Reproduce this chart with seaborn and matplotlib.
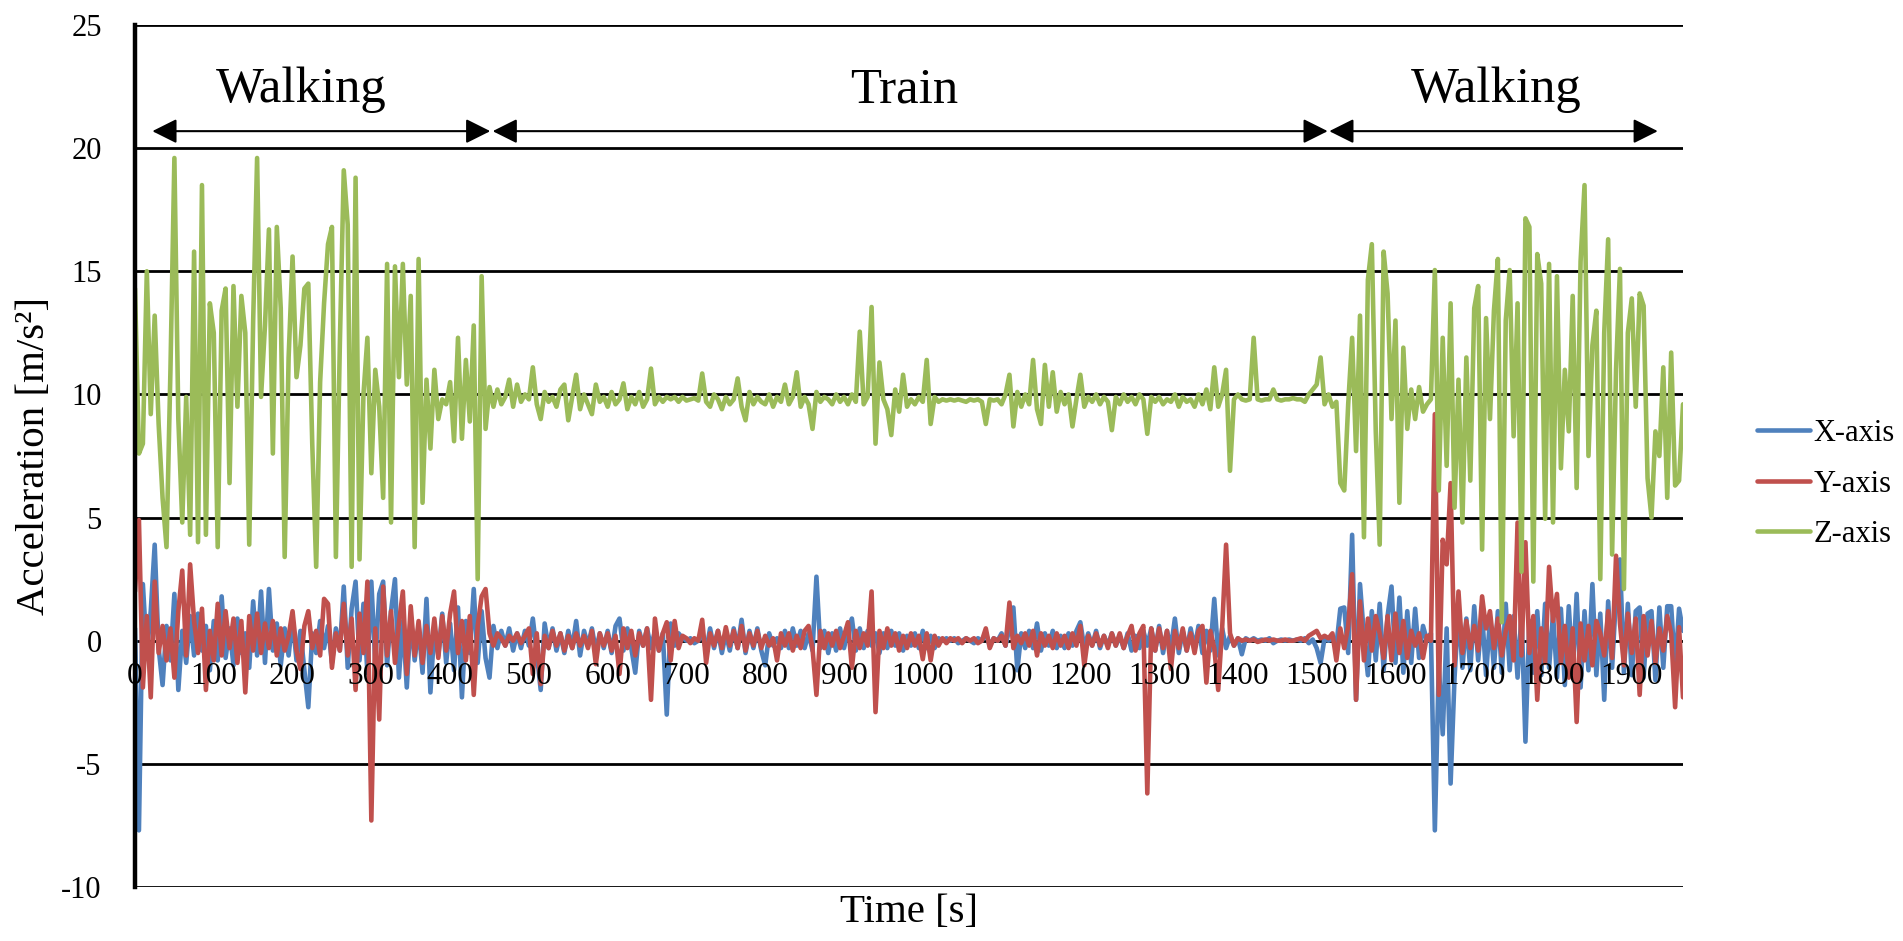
import numpy as np
import pandas as pd
import seaborn as sns
import matplotlib.pyplot as plt

# time axis (s), one reading every 5 s
time_s = list(range(0, 1966, 5))

# X-axis acceleration [m/s2]
x_axis = [
    0.5, -7.7, 2.3, -0.5, 1.2, 3.9, -0.3, -1.8, 0.6, -0.8, 1.9, -2.0, 0.4, -0.9, 1.0, -0.6, 1.1, -0.4, 0.6, -1.2,
    0.8, -0.8, 1.8, -0.7, 0.5, -1.0, 0.9, -0.5, 0.3, -1.1, 1.6, -0.6, 2.0, -0.9, 2.1, -0.4, 0.7, -1.0, 0.5, -0.6,
    0.9, -0.8, 0.4, -1.2, -2.7, 0.3, -0.5, 0.8, -0.3, 0.6, -0.9, 0.5, -0.4, 2.2, -1.1, 1.3, 2.4, -0.8, 1.5, -1.3,
    2.4, -0.9, 1.9, 2.4, -1.0, 1.2, 2.5, -1.5, 0.8, -1.9, 1.0, -0.8, 0.6, -1.3, 1.7, -2.1, 0.5, -0.6, 1.1, -0.9,
    0.7, -1.2, 1.35, -2.3, 0.8, -0.5, 2.1, -0.9, 1.2, -0.7, -1.5, 0.6, -0.3, 0.4, -0.2, 0.5, -0.4, 0.3, -0.3, 0.4,
    -0.2, 0.9, -0.5, -2.0, 0.7, -0.3, 0.5, -0.4, 0.3, -0.5, 0.4, -0.3, 0.8, -0.6, 0.4, -0.2, 0.5, -0.4, 0.3, -0.3,
    0.4, -0.5, 0.6, 0.9, -0.4, 0.5, -0.3, -1.3, 0.4, -0.2, 0.5, -0.3, 0.4, -0.4, 0.3, -3.0, 0.7, -0.2, 0.3, 0.1,
    0.0, 0.1, -0.1, 0.0, 0.3, -0.4, 0.5, -0.3, 0.4, -0.5, 0.3, -0.4, 0.5, -0.3, 0.85, -0.5, 0.4, -0.3, 0.5, -0.4,
    -1.0, 0.3, -0.2, 0.1, -0.3, 0.4, -0.3, 0.5, -0.2, 0.4, -0.3, 0.3, -0.4, 2.6, -0.3, 0.4, -0.5, 0.3, -0.4, 0.5,
    -0.3, 0.4, 0.9, -0.4, 0.5, -0.3, 0.4, -0.2, 0.3, -0.5, 0.3, -0.3, 0.4, -0.2, 0.3, -0.4, 0.2, -0.2, 0.3, -0.3,
    0.4, -0.3, 0.2, -0.3, 0.1, 0.0, 0.1, 0.0, 0.1, -0.1, 0.0, 0.1, 0.0, -0.1, 0.1, 0.0, 0.3, -0.2, 0.1, 0.0,
    0.3, -0.2, 0.5, 1.35, -1.2, 0.3, -0.3, 0.4, -0.3, 0.7, -0.4, 0.3, -0.2, 0.4, -0.3, 0.2, -0.3, 0.3, -0.2, 0.4,
    0.75, -0.3, 0.3, -0.2, 0.4, -0.3, 0.2, -0.2, 0.3, -0.2, 0.2, -0.3, 0.3, -0.4, 0.2, -0.3, 0.4, -0.2, 0.5, -0.4,
    0.6, -0.5, 0.4, -0.3, 0.9, -0.5, 0.4, -0.4, 0.5, -0.3, 0.6, -0.5, 0.4, -0.4, 1.7, -0.6, 0.5, -0.3, 0.2, -0.2,
    0.1, -0.55, 0.1, 0.0, 0.1, 0.0, 0.05, 0.0, 0.1, -0.1, 0.0, 0.05, 0.0, 0.05, 0.0, 0.05, 0.0, 0.1, -0.1, 0.05,
    -0.3, -0.9, 0.1, 0.0, 0.1, -0.2, 1.3, 1.35, -0.5, 4.3, -2.4, 2.3, 0.2, -1.4, 1.2, -0.8, 1.5, -1.2, 1.0, 2.2,
    -0.9, 1.75, -1.3, 1.2, -0.9, 1.3, -0.7, 0.6, 0.0, 0.3, -7.7, -1.0, -3.8, 0.5, -5.8, -1.5, 1.3, -1.1, 0.9, -1.2,
    1.4, -0.8, 1.1, -1.4, 0.9, -1.1, 1.2, -1.3, 1.5, -1.2, 1.0, -1.5, 1.1, -4.1, 0.8, -1.3, 1.2, -1.4, 1.5, -1.1,
    1.1, -1.5, 1.3, -1.8, 1.4, -1.3, 1.9, -1.9, 1.2, -1.2, 2.3, -1.4, 1.1, -2.4, 1.6, -1.1, 1.8, 3.3, -1.3, 1.5,
    -1.4, 1.2, 1.35, -1.5, 1.1, 1.2, -1.6, 1.35, -1.1, 1.4, 1.4, -1.2, 1.3, 0.4,
]

# Y-axis acceleration [m/s2]
y_axis = [
    2.0, 4.9, -1.9, 1.0, -2.3, 2.4, -0.5, 0.6, -0.8, 0.5, -1.5, 1.2, 2.85, -0.6, 3.1, 0.8, -0.5, 1.3, -2.0, 0.4,
    -0.8, 1.5, -0.6, 1.2, -0.3, 0.9, -0.9, 0.8, -2.1, 1.0, -0.4, 1.1, -0.5, 0.7, -0.3, 0.8, -0.6, 0.5, -0.4, 0.2,
    1.2, -0.4, -1.15, 0.6, 1.2, -0.3, 0.4, -0.6, 1.7, 1.5, -1.1, 0.3, -0.4, 1.5, -0.6, 0.9, -2.0, 1.1, -0.5, 2.4,
    -7.3, 0.5, -3.2, 2.2, -0.6, 1.2, -0.9, 0.7, 2.0, -1.35, 1.4, -0.6, 0.8, -0.9, 0.6, -0.5, 0.9, -0.7, 1.0, -0.4,
    1.1, 2.0, -0.5, 0.8, -0.8, 1.0, -2.2, 0.6, 1.8, 2.1, 0.3, -0.2, 0.3, 0.1, -0.2, 0.2, 0.0, 0.3, -0.1, 0.2,
    0.5, -1.35, 0.3, -1.76, 0.2, -0.3, 0.4, -0.2, 0.3, -0.4, 0.2, -0.3, 0.3, -0.2, 0.2, -0.3, 0.4, -0.95, 0.3, -0.2,
    0.3, -0.4, 0.2, -1.35, 0.5, -0.3, 0.4, -0.6, 0.3, -0.2, 0.5, -2.4, 0.9, -0.4, 0.3, 0.75, -0.8, 0.8, -0.3, 0.2,
    0.1, -0.1, 0.1, 0.0, 0.85, -0.9, 0.3, -0.2, 0.4, -0.3, 0.55, -0.2, 0.4, -0.3, 0.6, -0.4, 0.3, -0.2, 0.4, -0.3,
    0.2, -0.2, 0.1, -0.8, 0.3, -0.2, 0.3, -0.4, 0.2, -0.3, 0.4, 0.6, -0.3, -2.2, 0.4, -0.3, 0.3, -0.2, 0.4, -0.3,
    0.2, 0.75, -1.1, 0.4, -0.3, 0.3, -0.2, 2.0, -2.9, 0.4, -0.3, 0.5, -0.2, 0.3, -0.4, 0.2, -0.3, 0.3, -0.2, 0.2,
    -0.75, 0.3, -0.8, 0.2, -0.2, 0.1, -0.1, 0.1, 0.0, 0.1, -0.1, 0.1, 0.0, 0.1, -0.1, 0.0, 0.5, -0.3, 0.1, 0.0,
    0.2, -0.2, 1.55, -0.3, 0.2, -0.1, 0.3, -0.2, 0.4, -0.6, 0.3, -0.2, 0.2, -0.3, 0.3, -0.2, 0.2, -0.3, 0.3, -0.2,
    0.6, -1.0, 0.2, -0.2, 0.3, -0.2, 0.2, -0.3, 0.3, -0.2, 0.3, -0.3, 0.2, 0.6, -0.4, 0.3, 0.6, -6.2, 0.5, -0.4,
    0.5, -0.3, 0.4, -1.15, 0.4, -0.3, 0.5, -0.4, 0.3, -0.5, 0.4, 0.6, -1.7, 0.4, -0.3, -2.0, 0.5, 3.9, 0.3, -0.2,
    0.1, 0.0, 0.05, 0.0, 0.05, -0.05, 0.0, 0.05, 0.0, 0.05, 0.0, 0.0, 0.05, 0.0, 0.0, 0.05, 0.1, 0.0, 0.2, 0.3,
    0.4, 0.1, 0.2, 0.1, 0.3, -0.8, 0.5, -0.3, 0.6, 2.7, -2.4, 1.6, -0.8, 0.9, -0.4, 1.0, 0.3, -0.7, 1.0, -0.8,
    1.1, -0.5, 0.8, -0.7, 0.4, -0.2, 0.3, -0.7, 0.2, 0.0, 9.2, -2.2, 4.1, 3.1, 6.4, -1.0, 2.0, -0.5, 0.8, -0.3,
    0.6, -0.4, 1.8, 0.5, 1.2, -0.3, 0.9, -0.6, 0.4, 1.0, -0.8, 4.8, -0.6, 4.0, -0.5, 1.0, -2.4, 0.5, -0.9, 3.0,
    0.8, 1.9, -0.9, 0.6, -1.5, 0.5, -3.3, 0.7, -0.8, 0.6, -1.0, 0.8, 0.3, -0.6, 1.2, -0.7, 3.45, 0.7, -1.0, 1.1,
    -0.5, 0.9, -2.2, 1.0, -0.6, 0.8, -0.9, 0.5, -0.4, 1.0, 0.3, -2.7, 0.55, -2.3,
]

# Z-axis acceleration [m/s2]
z_axis = [
    14.3, 7.6, 8.0, 15.0, 9.2, 13.2, 8.8, 5.8, 3.8, 11.0, 19.6, 9.0, 4.8, 9.9, 4.3, 15.8, 4.0, 18.5, 4.3, 13.7,
    12.5, 3.8, 13.4, 14.3, 6.4, 14.4, 9.5, 14.0, 12.5, 3.9, 13.0, 19.6, 9.9, 12.8, 16.7, 7.6, 16.8, 13.5, 3.4, 11.5,
    15.6, 10.7, 12.0, 14.3, 14.5, 8.0, 3.0, 10.5, 13.7, 16.1, 16.8, 3.4, 12.0, 19.1, 16.9, 3.0, 18.8, 3.3, 10.0, 12.3,
    6.8, 11.0, 9.5, 5.8, 15.3, 4.8, 15.2, 10.7, 15.3, 10.4, 14.0, 3.8, 15.5, 5.6, 10.6, 7.8, 11.0, 9.0, 9.8, 9.6,
    10.5, 8.1, 12.3, 8.2, 11.4, 8.9, 12.8, 2.5, 14.8, 8.6, 10.3, 9.5, 10.2, 9.6, 9.9, 10.6, 9.5, 10.4, 9.7, 10.0,
    9.8, 11.1, 9.6, 9.0, 10.1, 9.7, 9.9, 9.5, 10.2, 10.4, 8.95, 9.9, 10.8, 9.4, 10.0, 9.6, 9.2, 10.4, 9.7, 9.9,
    9.5, 10.1, 9.6, 9.8, 10.45, 9.4, 9.9, 9.6, 10.1, 9.5, 9.8, 11.05, 9.6, 9.9, 9.7, 9.9, 9.8, 9.9, 9.7, 9.9,
    9.75, 9.8, 9.85, 9.75, 10.85, 9.7, 9.5, 10.0, 9.8, 9.4, 9.9, 9.6, 9.8, 10.65, 9.5, 8.95, 10.1, 9.6, 9.9, 9.7,
    9.6, 10.0, 9.5, 9.9, 9.7, 10.4, 9.6, 9.9, 10.9, 9.5, 9.9, 9.6, 8.6, 10.1, 9.7, 9.9, 9.8, 9.6, 10.0, 9.7,
    9.9, 9.6, 10.0, 9.7, 12.55, 9.6, 9.9, 13.55, 8.0, 11.3, 9.8, 9.4, 8.35, 10.2, 9.3, 10.8, 9.5, 9.8, 9.6, 9.9,
    9.7, 11.4, 8.8, 9.9, 9.7, 9.8, 9.75, 9.8, 9.75, 9.8, 9.75, 9.7, 9.8, 9.75, 9.8, 9.7, 8.8, 9.8, 9.75, 9.8,
    9.6, 10.0, 10.8, 8.7, 10.1, 9.5, 10.0, 9.6, 11.4, 9.4, 8.8, 11.2, 9.5, 10.9, 9.3, 10.1, 9.6, 10.0, 8.7, 9.8,
    10.8, 9.5, 9.9, 9.7, 10.0, 9.6, 9.9, 9.7, 8.55, 9.9, 9.6, 10.0, 9.7, 9.9, 9.6, 10.0, 9.8, 8.4, 9.9, 9.7,
    9.9, 9.6, 9.8, 9.7, 10.0, 9.5, 9.9, 9.7, 9.8, 9.5, 10.0, 9.6, 10.2, 9.4, 11.1, 9.5, 10.0, 11.0, 6.9, 9.8,
    10.0, 9.8, 9.75, 9.8, 12.3, 9.8, 9.75, 9.8, 9.8, 10.2, 9.8, 9.75, 9.8, 9.8, 9.85, 9.8, 9.8, 9.7, 10.0, 10.2,
    10.4, 11.5, 9.6, 10.0, 9.5, 9.7, 6.4, 6.1, 9.6, 12.3, 7.7, 13.2, 4.2, 14.65, 16.1, 8.5, 3.9, 15.8, 14.1, 9.0,
    13.0, 5.6, 11.9, 8.6, 10.2, 9.0, 10.3, 9.3, 9.6, 9.8, 15.05, 6.1, 12.3, 7.1, 13.7, 5.4, 10.6, 4.8, 11.5, 6.5,
    13.5, 14.4, 3.7, 13.1, 9.0, 13.4, 15.5, 0.75, 13.0, 15.05, 8.3, 13.7, 2.8, 17.15, 16.8, 2.4, 15.7, 14.5, 4.95, 15.3,
    4.8, 14.8, 7.0, 11.0, 8.5, 14.0, 6.2, 15.4, 18.5, 7.5, 12.0, 13.4, 2.5, 12.5, 16.3, 3.5, 11.0, 15.1, 2.1, 12.5,
    13.9, 9.5, 14.1, 13.6, 6.6, 5.0, 8.5, 7.5, 11.1, 5.8, 11.7, 6.3, 6.5, 9.6,
]

assert len(time_s) == len(x_axis) == len(y_axis) == len(z_axis), (len(time_s), len(x_axis), len(y_axis), len(z_axis))

series_names = ['X-axis', 'Y-axis', 'Z-axis']
series_colors = ['#4F81BD', '#C0504D', '#9BBB59']

phases = ['Walking', 'Train', 'Walking']
phase_start = [22, 454, 1516]
phase_end = [451, 1514, 1933]
phase_label_x = [211, 977, 1728]

yticks = list(range(-10, 26, 5))
xticks = list(range(0, 2000, 100))

df = pd.DataFrame({
    'Time': time_s * 3,
    'Acc': x_axis + y_axis + z_axis,
    'Axis': [n for n in series_names for _ in time_s],
})

sns.set_theme(style='white')
plt.rcParams['font.family'] = ['Liberation Serif', 'DejaVu Serif']
plt.rcParams['axes.unicode_minus'] = False
plt.rcParams['text.color'] = 'black'
plt.rcParams['axes.labelcolor'] = 'black'
plt.rcParams['xtick.color'] = 'black'
plt.rcParams['ytick.color'] = 'black'

fig = plt.figure(figsize=(19.03, 9.41), dpi=100)
ax = fig.add_axes([135 / 1903, 54 / 941, 1548 / 1903, 862 / 941])

sns.lineplot(data=df, x='Time', y='Acc', hue='Axis', hue_order=series_names,
             palette=series_colors, linewidth=3.3, estimator=None, ax=ax, zorder=2)

# black horizontal gridlines behind the data
for yv in yticks:
    ax.axhline(yv, color='black', linewidth=2.0, zorder=1)

ax.set_xlim(0, 1965)
ax.set_ylim(-10, 25)
ax.set_xticks(xticks)
ax.set_yticks(yticks)
ax.tick_params(axis='x', length=0, pad=15, labelsize=22.5)
ax.tick_params(axis='y', length=0, pad=24, labelsize=22)
ax.xaxis.set_zorder(3)

for side in ['top', 'right']:
    ax.spines[side].set_visible(False)
ax.spines['bottom'].set_position(('data', 0))
ax.spines['bottom'].set_color('none')
ax.spines['left'].set_color('black')
ax.spines['left'].set_linewidth(3.2)
ax.spines['left'].set_zorder(3)

ax.set_xlabel('Time [s]', fontsize=29.5)
ax.xaxis.set_label_coords(0.5, -0.008)
ax.set_ylabel('Acceleration [m/s²]', fontsize=29.5)
ax.yaxis.set_label_coords(-0.053, 0.5)

# phase arrows and labels
for name, x0, x1, xm in zip(phases, phase_start, phase_end, phase_label_x):
    ax.annotate('', xy=(x1, 20.69), xytext=(x0, 20.69),
                arrowprops=dict(arrowstyle='<|-|>,head_length=0.6,head_width=0.3',
                                color='black', lw=1.5, mutation_scale=25,
                                shrinkA=0, shrinkB=0))
    ax.text(xm, 21.87, name, ha='center', va='baseline', fontsize=36.5)

handles, labels = ax.get_legend_handles_labels()
ax.legend(handles, labels, loc='center left', bbox_to_anchor=(1757 / 1903, 1 - 484 / 941),
          bbox_transform=fig.transFigure, frameon=False, fontsize=22,
          handlelength=1.75, handletextpad=0.1, labelspacing=0.7,
          borderpad=0, borderaxespad=0)

fig.savefig('out.png', dpi=100)
